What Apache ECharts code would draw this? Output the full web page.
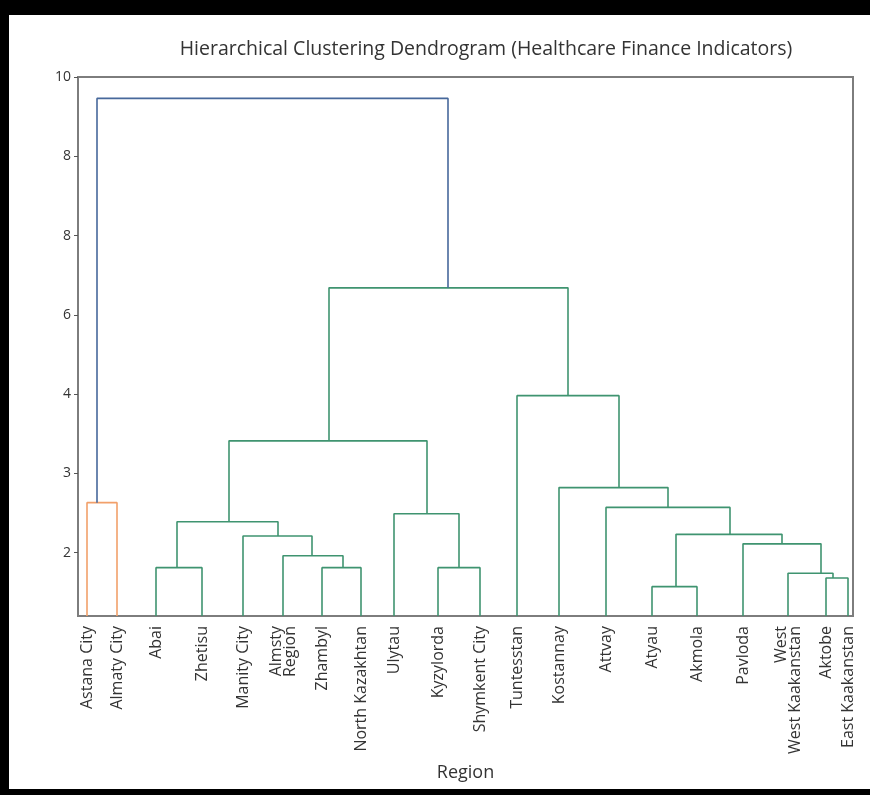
<!DOCTYPE html>
<html>
<head>
<meta charset="utf-8">
<script src="https://cdn.jsdelivr.net/npm/echarts@6/dist/echarts.min.js"></script>
<style>
  html, body { margin: 0; padding: 0; background: #fff; }
  #frame { position: relative; width: 870px; height: 795px; background: #000; }
  #chart { position: absolute; left: 9px; top: 15px; width: 861px; height: 774px; background: #fff; }
</style>
</head>
<body>
<div id="frame"><div id="chart"></div></div>
<script>
// leaf order along the x axis
const leafNames = [
  'Astana City', 'Almaty City', 'Abai', 'Zhetisu', 'Manity City', 'Almsty\nRegion',
  'Zhambyl', 'North Kazakhtan', 'Ulytau', 'Kyzylorda', 'Shymkent City', 'Tuntesstan',
  'Kostannay', 'Attvay', 'Atyau', 'Akmola', 'Pavloda', 'West\nWest Kaakanstan',
  'Aktobe', 'East Kaakanstan'
];
// leaf positions (x units; leaves are not evenly spaced)
const leafX = [9, 39, 78, 124, 165, 205, 244, 283, 316, 360, 402, 439, 481, 528, 574, 619, 665, 710, 748, 770];

// y tick labels, placed at y = 0..6 of the height scale
const yTickLabels = ['2', '3', '4', '6', '8', '8', '10'];
const yTickPos = [0, 1, 2, 3, 4, 5, 6];

// links as in scipy: icoord (x) and dcoord (height), one U-shape each
const icoord = [
  [9, 9, 39, 39],
  [78, 78, 124, 124],
  [244, 244, 283, 283],
  [205, 205, 265, 265],
  [165, 165, 234, 234],
  [99, 99, 200, 200],
  [360, 360, 402, 402],
  [316, 316, 381, 381],
  [151, 151, 349, 349],
  [748, 748, 770, 770],
  [710, 710, 755, 755],
  [665, 665, 743, 743],
  [574, 574, 619, 619],
  [598, 598, 704, 704],
  [528, 528, 652, 652],
  [481, 481, 590, 590],
  [439, 439, 541, 541],
  [251, 251, 490, 490],
  [19, 19, 370, 370]
];
const dcoord = [
  [-0.8, 0.63, 0.63, -0.8],
  [-0.8, -0.19, -0.19, -0.8],
  [-0.8, -0.19, -0.19, -0.8],
  [-0.8, -0.04, -0.04, -0.19],
  [-0.8, 0.21, 0.21, -0.04],
  [-0.19, 0.39, 0.39, 0.21],
  [-0.8, -0.19, -0.19, -0.8],
  [-0.8, 0.49, 0.49, -0.19],
  [0.39, 1.41, 1.41, 0.49],
  [-0.8, -0.32, -0.32, -0.8],
  [-0.8, -0.26, -0.26, -0.32],
  [-0.8, 0.11, 0.11, -0.26],
  [-0.8, -0.43, -0.43, -0.8],
  [-0.43, 0.23, 0.23, 0.11],
  [-0.8, 0.57, 0.57, 0.23],
  [-0.8, 0.82, 0.82, 0.57],
  [-0.8, 1.98, 1.98, 0.82],
  [1.41, 3.34, 3.34, 1.98],
  [0.63, 5.73, 5.73, 3.34]
];
const linkColor = [
  'C1', 'C2', 'C2', 'C2', 'C2', 'C2', 'C2', 'C2', 'C2', 'C2',
  'C2', 'C2', 'C2', 'C2', 'C2', 'C2', 'C2', 'C2', 'C0'
];
const palette = { C0: '#47689b', C1: '#f2a06a', C2: '#3f9470' };

const font = '"Open Sans", "DejaVu Sans", sans-serif';
const frameColor = '#7d7d7d';

const series = icoord.map((xs, i) => ({
  type: 'line',
  data: xs.map((x, k) => [x, dcoord[i][k]]),
  symbol: 'none',
  silent: true,
  lineStyle: { color: palette[linkColor[i]], width: 1.6 },
  z: 3
}));

const chart = echarts.init(document.getElementById('chart'));
chart.setOption({
  animation: false,
  backgroundColor: '#fff',
  title: {
    text: 'Hierarchical Clustering Dendrogram (Healthcare Finance Indicators)',
    left: 472,
    top: 19,
    textAlign: 'center',
    textStyle: { fontFamily: font, fontSize: 19.5, fontWeight: 'normal', color: '#333' }
  },
  grid: {
    left: 69, right: 17, top: 62, bottom: 173,
    show: true, borderColor: frameColor, borderWidth: 2, backgroundColor: '#fff'
  },
  xAxis: {
    type: 'value',
    min: 0,
    max: 775,
    name: 'Region',
    nameLocation: 'middle',
    nameGap: 148,
    nameTextStyle: { fontFamily: font, fontSize: 18, color: '#333' },
    axisLine: { show: true, onZero: false, lineStyle: { color: frameColor, width: 2 } },
    axisTick: { show: false },
    splitLine: { show: false },
    axisLabel: {
      customValues: leafX,
      rotate: 90,
      margin: 10,
      fontFamily: font,
      fontSize: 16,
      lineHeight: 14,
      color: '#333',
      formatter: (v) => leafNames[leafX.indexOf(v)] || ''
    }
  },
  yAxis: {
    type: 'value',
    min: -0.8,
    max: 6,
    axisLine: { show: true, onZero: false, lineStyle: { color: frameColor, width: 2 } },
    axisTick: { show: true, customValues: yTickPos, length: 4, lineStyle: { color: '#555' } },
    splitLine: { show: false },
    axisLabel: {
      customValues: yTickPos,
      margin: 7,
      fontFamily: font,
      fontSize: 14,
      color: '#333',
      formatter: (v) => yTickLabels[yTickPos.indexOf(v)] || ''
    }
  },
  series
});
</script>
</body>
</html>
